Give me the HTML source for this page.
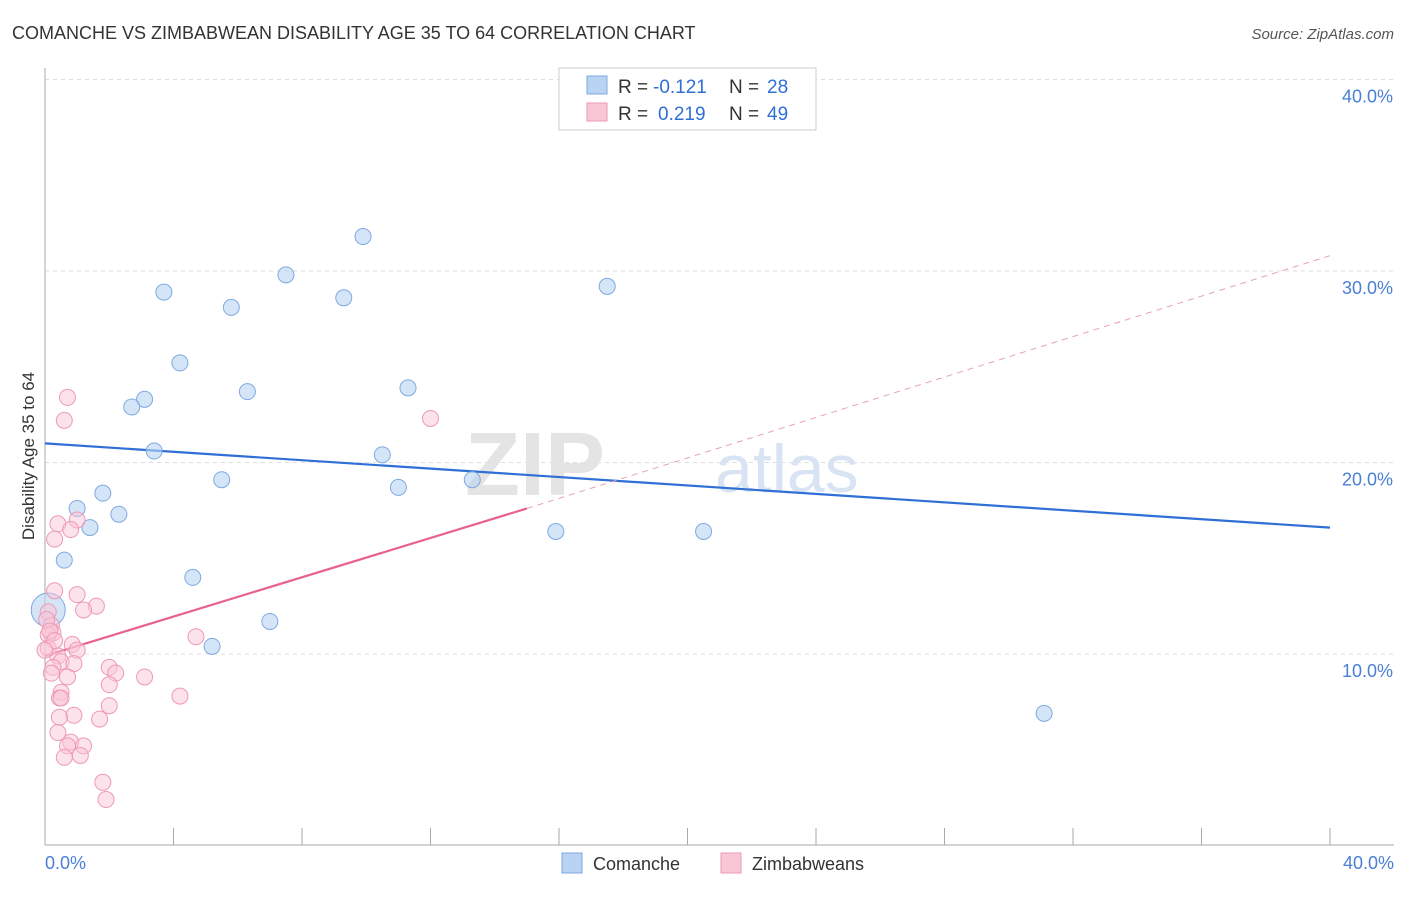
<!DOCTYPE html>
<html><head><meta charset="utf-8">
<style>
body{margin:0;background:#fff;font-family:"Liberation Sans",sans-serif;}
svg text{font-family:"Liberation Sans",sans-serif;}
</style></head>
<body>
<svg width="1406" height="892" xmlns="http://www.w3.org/2000/svg">
<text x="12" y="39" font-size="18" fill="#333">COMANCHE VS ZIMBABWEAN DISABILITY AGE 35 TO 64 CORRELATION CHART</text>
<text x="1394" y="39" font-size="15" fill="#555" text-anchor="end" font-style="italic">Source: ZipAtlas.com</text>
<g id="grid"></g>
<text x="465" y="495" font-size="90" fill="#e4e4e4" font-family="Liberation Serif" font-weight="bold">ZIP</text>
<text x="715" y="492" font-size="68" fill="#d8e4f3">atlas</text>
<line x1="45" y1="68" x2="45" y2="845" stroke="#aaa"/>
<line x1="45" y1="845" x2="1394" y2="845" stroke="#aaa"/>
<text x="34" y="456" font-size="17" fill="#333" text-anchor="middle" transform="rotate(-90 34 456)">Disability Age 35 to 64</text>
<text x="45" y="869" font-size="18" fill="#4a7fd6">0.0%</text>
<text x="1394" y="869" font-size="18" fill="#4a7fd6" text-anchor="end">40.0%</text>
<g id="lines"></g>
<g id="pts"></g>
<g>
<rect x="559" y="68" width="257" height="62" fill="#fff" stroke="#ccc"/>
<rect x="587" y="76" width="20" height="18" fill="#b9d3f3" stroke="#7fa9e0"/>
<rect x="587" y="103" width="20" height="18" fill="#f9c6d6" stroke="#ee99b6"/>
<text x="618" y="93" font-size="19" fill="#333">R =</text>
<text x="653" y="93" font-size="19" fill="#2f6fd6">-0.121</text>
<text x="729" y="93" font-size="19" fill="#333">N =</text>
<text x="767" y="93" font-size="19" fill="#2f6fd6">28</text>
<text x="618" y="120" font-size="19" fill="#333">R =</text>
<text x="658" y="120" font-size="19" fill="#2f6fd6">0.219</text>
<text x="729" y="120" font-size="19" fill="#333">N =</text>
<text x="767" y="120" font-size="19" fill="#2f6fd6">49</text>
</g>
<g>
<rect x="562" y="853" width="20" height="20" fill="#b9d3f3" stroke="#7fa9e0"/>
<text x="593" y="870" font-size="18" fill="#333">Comanche</text>
<rect x="721" y="853" width="20" height="20" fill="#f9c6d6" stroke="#ee99b6"/>
<text x="752" y="870" font-size="18" fill="#333">Zimbabweans</text>
</g>
</svg>
<script>
const yTicks=[10,20,30,40];
const yTickLabels=["10.0%","20.0%","30.0%","40.0%"];
const comancheX=[9.9,7.5,3.7,9.3,5.8,17.5,4.2,3.1,2.7,6.3,11.3,3.4,10.5,5.5,11.0,13.3,1.8,1.0,2.3,1.4,15.9,20.5,0.6,4.6,7.0,5.2,31.1,0.1];
const comancheY=[31.8,29.8,28.9,28.6,28.1,29.2,25.2,23.3,22.9,23.7,23.9,20.6,20.4,19.1,18.7,19.1,18.4,17.6,17.3,16.6,16.4,16.4,14.9,14.0,11.7,10.4,6.9,12.3];
const zimX=[0.7,0.6,12.0,0.4,1.0,0.8,0.3,0.3,1.0,1.6,1.2,0.1,0.2,0.25,0.1,4.7,0.85,1.0,0.1,0.4,0.5,0.9,0.25,2.0,2.2,3.1,0.7,2.0,0.5,0.45,4.2,2.0,0.9,0.45,1.7,0.4,0.8,1.2,0.7,1.1,1.8,1.9,0.05,0.15,0.3,0.0,0.2,0.5,0.6];
const zimY=[23.4,22.2,22.3,16.8,17.0,16.5,16.0,13.3,13.1,12.5,12.3,12.2,11.5,11.1,11.0,10.9,10.5,10.2,10.3,9.9,9.6,9.5,9.3,9.3,9.0,8.8,8.8,8.4,8.0,7.7,7.8,7.3,6.8,6.7,6.6,5.9,5.4,5.2,5.2,4.7,3.3,2.4,11.8,11.2,10.7,10.2,9.0,7.7,4.6];
const blueTrend=[[0,21.0],[40,16.6]];
const pinkSolid=[[0,9.9],[15,17.6]];
const pinkDash=[[15,17.6],[40,30.8]];
const X=v=>45+v*32.125, Y=v=>845.5-v*19.15;
const NS="http://www.w3.org/2000/svg";
const mk=(t,a,p)=>{const e=document.createElementNS(NS,t);for(const k in a)e.setAttribute(k,a[k]);p.appendChild(e);return e;};
const grid=document.getElementById('grid');
yTicks.forEach((t,i)=>{
 const l=mk('line',{x1:45,x2:1394,y1:Y(t),y2:Y(t),stroke:'#ddd','stroke-dasharray':'4 4'},grid);
 
 
 const tx=mk('text',{x:1393,y:Y(t)+23,'font-size':18,fill:'#4a7fd6','text-anchor':'end'},grid);
 tx.textContent=yTickLabels[i];
 
 
});
for(let i=1;i<=10;i++){const l=mk('line',{x1:X(i*4),x2:X(i*4),y1:828,y2:845,stroke:'#aaa'},grid);
 
 }
const pts=document.getElementById('pts');
comancheX.forEach((v,i)=>{const c=mk('circle',{cx:X(v),cy:Y(comancheY[i]),r:i==27?17:8,fill:'#b9d3f3','fill-opacity':0.6,stroke:'#7fa9e0'},pts);
 
 });
zimX.forEach((v,i)=>{const c=mk('circle',{cx:X(v),cy:Y(zimY[i]),r:8,fill:'#f9c6d6','fill-opacity':0.5,stroke:'#ee99b6'},pts);
 
 });
const lines=document.getElementById('lines');
const ln=(s,col,w,d,n)=>{const e=mk('line',{x1:X(s[0][0]),y1:Y(s[0][1]),x2:X(s[1][0]),y2:Y(s[1][1]),stroke:col,'stroke-width':w},lines);if(d)e.setAttribute('stroke-dasharray',d);
 
 };
ln(blueTrend,'#2f6fd6',2.2,null,'comanche-trend-line');
ln(pinkSolid,'#e8628d',2.2,null,'zimbabwean-trend-line');
ln(pinkDash,'#e8a0b8',1,'6 5','zimbabwean-trend-extension');
</script>
</body></html>
